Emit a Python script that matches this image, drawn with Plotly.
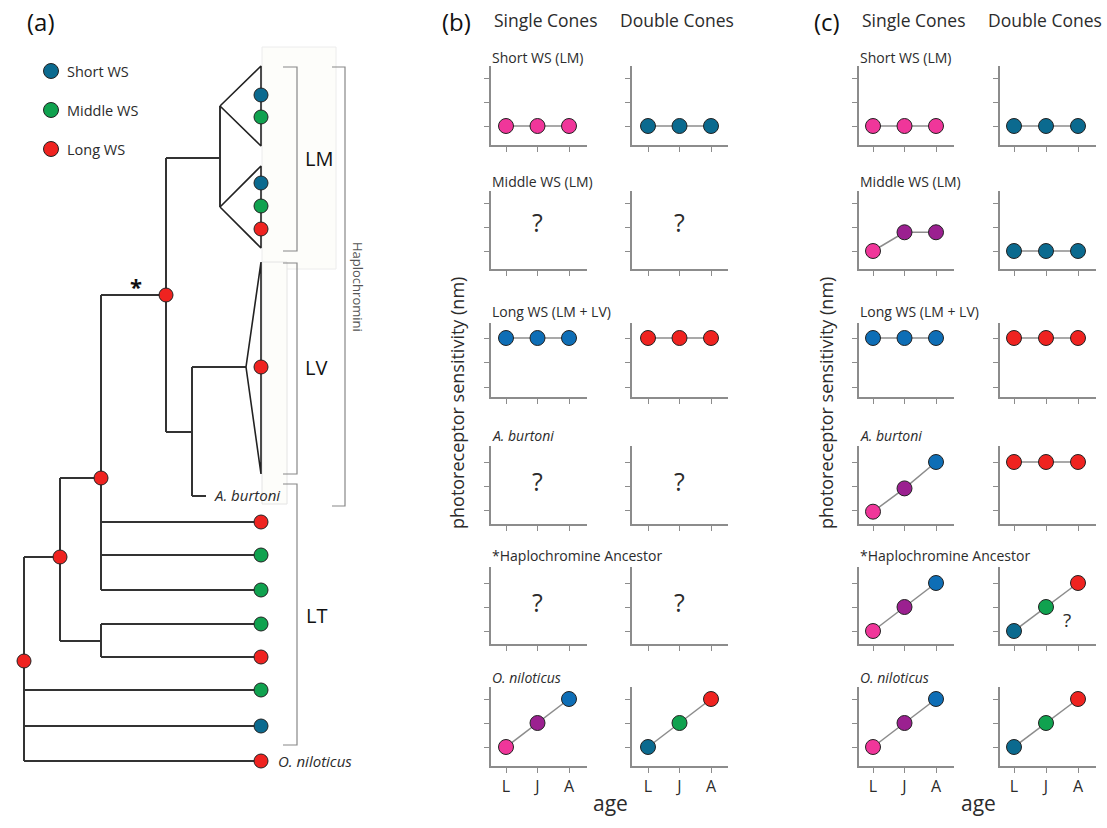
import plotly.graph_objects as go

W, H = 1107, 828
FONT = "Open Sans, Noto Sans, DejaVu Sans, sans-serif"
TXT = "#2b2b2b"

# photoreceptor class colours
COL = {
    "pink": "#f0369a",
    "purple": "#9b2090",
    "blue": "#0e6eb6",
    "teal": "#0b6a8f",
    "green": "#10a24f",
    "red": "#ef2320",
}

# ---------------- cladogram (panel a) ----------------
# internal nodes: depth (x) and row (y) on the tree canvas, node state colour
node_name = ["root", "n1", "n2", "n3", "hap", "lm", "lvb"]
node_x = [24, 60, 101, 101, 166, 220, 192]
node_y = [661, 557, 478, 641, 295, 158, 432]
node_state = ["red", "red", "red", None, "red", None, None]

# leaves (single taxa and collapsed clades)
leaf_name = ["tri1", "tri2", "trilv", "burtoni", "lt1", "lt2", "lt3", "lt4", "lt5", "lt6", "lt7", "nil"]
leaf_x = [220, 220, 246, 206, 261, 261, 261, 261, 261, 261, 261, 261]
leaf_y = [106, 207, 367, 496, 522, 555, 590, 624, 657, 690, 726, 761]
leaf_state = [None, None, None, None, "red", "green", "green", "green", "red", "green", "teal", "red"]

children = {
    "root": ["n1", "lt6", "lt7", "nil"],
    "n1": ["n2", "n3"],
    "n2": ["hap", "lt1", "lt2", "lt3"],
    "n3": ["lt4", "lt5"],
    "hap": ["lm", "lvb"],
    "lm": ["tri1", "tri2"],
    "lvb": ["trilv", "burtoni"],
}

# collapsed clades: apex leaf, edge x, span, and tip states listed top to bottom
clade_apex = ["tri1", "tri2", "trilv"]
clade_edge_x = [261, 261, 261]
clade_span = [(66, 146), (166, 248), (262, 474)]
clade_tip_y = [[95, 117], [183, 206, 229], [367]]
clade_tip_state = [["teal", "green"], ["teal", "green", "red"], ["red"]]

legend_labels = ["Short WS", "Middle WS", "Long WS"]
legend_states = ["teal", "green", "red"]
legend_y = [71, 110, 149]

# ---------------- ontogeny panels (b, c) ----------------
ages = ["L", "J", "A"]
row_titles = ["Short WS (LM)", "Middle WS (LM)", "Long WS (LM + LV)",
              "<i>A. burtoni</i>", "*Haplochromine Ancestor", "<i>O. niloticus</i>"]

b_single = [[1, 1, 1], None, [3, 3, 3], None, None, [1, 2, 3]]
b_single_col = [["pink"] * 3, None, ["blue"] * 3, None, None, ["pink", "purple", "blue"]]
b_double = [[1, 1, 1], None, [3, 3, 3], None, None, [1, 2, 3]]
b_double_col = [["teal"] * 3, None, ["red"] * 3, None, None, ["teal", "green", "red"]]

c_single = [[1, 1, 1], [1, 1.78, 1.78], [3, 3, 3], [0.93, 1.9, 3], [1, 2, 3], [1, 2, 3]]
c_single_col = [["pink"] * 3, ["pink", "purple", "purple"], ["blue"] * 3,
                ["pink", "purple", "blue"], ["pink", "purple", "blue"], ["pink", "purple", "blue"]]
c_double = [[1, 1, 1], [1, 1, 1], [3, 3, 3], [3, 3, 3], [1, 2, 3], [1, 2, 3]]
c_double_col = [["teal"] * 3, ["teal"] * 3, ["red"] * 3, ["red"] * 3,
                ["teal", "green", "red"], ["teal", "green", "red"]]

# ---------------- layout geometry (pixels) ----------------
row_box = [(66, 145), (191, 269), (323, 397), (446, 524), (567, 644), (687, 766)]
row_ticks = [(78, 126), (203, 251), (338, 387), (462, 510), (583, 631), (699, 747)]
row_title_y = [58, 182, 311, 435, 555, 677]
col_box = {"b": [(491, 587), (632, 728)], "c": [(859, 954), (1000, 1096)]}
col_ticks = {"b": [(506, 569), (648, 711)], "c": [(873, 936), (1014, 1078)]}


def px(x):
    return x / W


def py(y):
    return 1 - y / H


fig = go.Figure()
layout = dict(
    width=W, height=H, margin=dict(l=0, r=0, t=0, b=0),
    paper_bgcolor="white", plot_bgcolor="rgba(0,0,0,0)",
    showlegend=False, font=dict(family=FONT, color=TXT),
)
annotations = []
shapes = []

# tree canvas axis
TREE_W = 400
layout["xaxis"] = dict(domain=[0, px(TREE_W)], range=[0, TREE_W], visible=False, fixedrange=True)
layout["yaxis"] = dict(domain=[0, 1], range=[H, 0], visible=False, fixedrange=True)

# faint boxes behind the Haplochromini clades
shapes.append(dict(type="rect", xref="x", yref="y", x0=262, x1=336, y0=47, y1=269,
                   fillcolor="#fdfdfa", line=dict(color="#ececec", width=1), layer="below"))
shapes.append(dict(type="rect", xref="x", yref="y", x0=262, x1=287, y0=262, y1=504,
                   fillcolor="#fdfdfa", line=dict(color="#e4e4e4", width=1), layer="below"))

pos = {}
for n, x, y in zip(node_name, node_x, node_y):
    pos[n] = (x, y)
for n, x, y in zip(leaf_name, leaf_x, leaf_y):
    pos[n] = (x, y)

lx, ly = [], []
for parent, kids in children.items():
    px0, py0 = pos[parent]
    ys = [pos[k][1] for k in kids] + [py0]
    lx += [px0, px0, None]
    ly += [min(ys), max(ys), None]
    for k in kids:
        kx, ky = pos[k]
        lx += [px0, kx, None]
        ly += [ky, ky, None]
fig.add_trace(go.Scatter(x=lx, y=ly, mode="lines", line=dict(color="#333333", width=2),
                         hoverinfo="skip", xaxis="x", yaxis="y"))

# collapsed clade triangles
tx, ty = [], []
for apex, ex, (y0, y1) in zip(clade_apex, clade_edge_x, clade_span):
    ax, ay = pos[apex]
    tx += [ax, ex, ex, ax, None]
    ty += [ay, y0, y1, ay, None]
fig.add_trace(go.Scatter(x=tx, y=ty, mode="lines", line=dict(color="#222222", width=1.6),
                         hoverinfo="skip", xaxis="x", yaxis="y"))

# brackets
BR = dict(color="#888888", width=1.2)
for (y0, y1), xb, xt in [((67, 251), 297, 283), ((263, 474), 297, 283),
                         ((484, 745), 297, 283), ((67, 506), 345, 332)]:
    shapes.append(dict(type="path", xref="x", yref="y",
                       path=f"M {xt},{y0} L {xb},{y0} L {xb},{y1} L {xt},{y1}", line=BR))

mx, my, mc = [], [], []
for n, s in zip(node_name, node_state):
    if s:
        mx.append(pos[n][0]); my.append(pos[n][1]); mc.append(COL[s])
for n, s in zip(leaf_name, leaf_state):
    if s:
        mx.append(pos[n][0]); my.append(pos[n][1]); mc.append(COL[s])
for ex, ys, ss in zip(clade_edge_x, clade_tip_y, clade_tip_state):
    for y, s in zip(ys, ss):
        mx.append(ex); my.append(y); mc.append(COL[s])
fig.add_trace(go.Scatter(x=mx, y=my, mode="markers",
                         marker=dict(size=14, color=mc, line=dict(color="#222222", width=1)),
                         hoverinfo="skip", xaxis="x", yaxis="y"))

# legend of panel a
fig.add_trace(go.Scatter(x=[51] * 3, y=legend_y, mode="markers",
                         marker=dict(size=15, color=[COL[s] for s in legend_states],
                                     line=dict(color="#222222", width=1)),
                         hoverinfo="skip", xaxis="x", yaxis="y"))
for lab, y in zip(legend_labels, legend_y):
    annotations.append(dict(x=65, y=y, xref="x", yref="y", text=lab, showarrow=False,
                            xanchor="left", yanchor="middle", font=dict(size=14.5, color=TXT)))

# clade labels
for lab, x, y in [("LM", 319, 158), ("LV", 316, 367), ("LT", 316, 615)]:
    annotations.append(dict(x=x, y=y, xref="x", yref="y", text=lab, showarrow=False,
                            xanchor="center", yanchor="middle", font=dict(size=20, color="#111111")))
annotations.append(dict(x=358, y=287, xref="x", yref="y", text="Haplochromini", textangle=90,
                        showarrow=False, xanchor="center", yanchor="middle",
                        font=dict(size=13, color="#555555")))
annotations.append(dict(x=136, y=286, xref="x", yref="y", text="<b>*</b>", showarrow=False,
                        xanchor="center", yanchor="middle", font=dict(size=22, color="#111111")))
annotations.append(dict(x=212, y=495, xref="x", yref="y", text="<i>A. burtoni</i>", showarrow=False,
                        xanchor="left", yanchor="middle", font=dict(size=15, color=TXT)))
annotations.append(dict(x=276, y=761, xref="x", yref="y", text="<i>O. niloticus</i>", showarrow=False,
                        xanchor="left", yanchor="middle", font=dict(size=15, color=TXT)))

# ---------------- small panels ----------------
AX = dict(showline=True, linecolor="#8c8c8c", linewidth=1.5, mirror=False,
          ticks="outside", ticklen=5, tickwidth=1.2, tickcolor="#8c8c8c",
          showgrid=False, zeroline=False, fixedrange=True)

panel_data = {
    "b": [(b_single, b_single_col), (b_double, b_double_col)],
    "c": [(c_single, c_single_col), (c_double, c_double_col)],
}

k = 2
for panel in ["b", "c"]:
    for ci in range(2):
        vals_rows, col_rows = panel_data[panel][ci]
        x0, x1 = col_box[panel][ci]
        tl, tr = col_ticks[panel][ci]
        sx = (tr - tl) / 2
        xr = [1 - (tl - x0) / sx, 3 + (x1 - tr) / sx]
        for ri in range(6):
            top, bot = row_box[ri]
            t3, t1 = row_ticks[ri]
            sy = (t1 - t3) / 2
            yr = [1 - (bot - t1) / sy, 3 + (t3 - top) / sy]
            xa, ya = f"xaxis{k}", f"yaxis{k}"
            last = ri == 5
            layout[xa] = dict(AX, domain=[px(x0), px(x1)], range=xr, anchor=f"y{k}",
                              tickvals=[1, 2, 3], ticktext=ages, showticklabels=last,
                              tickfont=dict(size=16, color=TXT))
            layout[ya] = dict(AX, domain=[py(bot), py(top)], range=yr, anchor=f"x{k}",
                              tickvals=[1, 2, 3], showticklabels=False)
            vals = vals_rows[ri]
            if vals is None:
                annotations.append(dict(x=2, y=2.2, xref=f"x{k}", yref=f"y{k}", text="?",
                                        showarrow=False, font=dict(size=25, color=TXT)))
            else:
                fig.add_trace(go.Scatter(
                    x=[1, 2, 3], y=vals, mode="lines+markers",
                    line=dict(color="#8c8c8c", width=1.5),
                    marker=dict(size=15, color=[COL[c] for c in col_rows[ri]],
                                line=dict(color="#222222", width=1)),
                    hoverinfo="skip", xaxis=f"x{k}", yaxis=f"y{k}"))
                if panel == "c" and ci == 1 and ri == 4:
                    annotations.append(dict(x=2.67, y=1.45, xref=f"x{k}", yref=f"y{k}", text="?",
                                            showarrow=False, font=dict(size=19, color=TXT)))
            if ci == 0:
                annotations.append(dict(x=px(x0 - 1), y=py(row_title_y[ri]), xref="paper", yref="paper",
                                        text=row_titles[ri], showarrow=False, xanchor="left",
                                        yanchor="middle", font=dict(size=14, color=TXT)))
            k += 1

# panel headings and axis titles
for lab, x in [("(a)", 41), ("(b)", 456), ("(c)", 827)]:
    annotations.append(dict(x=px(x), y=py(21), xref="paper", yref="paper", text=lab, showarrow=False,
                            xanchor="center", yanchor="middle", font=dict(size=24, color="#111111")))
for lab, x in [("Single Cones", 546), ("Double Cones", 677), ("Single Cones", 914), ("Double Cones", 1045)]:
    annotations.append(dict(x=px(x), y=py(20), xref="paper", yref="paper", text=lab, showarrow=False,
                            xanchor="center", yanchor="middle", font=dict(size=17.5, color=TXT)))
for x in [457, 826]:
    annotations.append(dict(x=px(x), y=py(403), xref="paper", yref="paper",
                            text="photoreceptor sensitivity (nm)", textangle=-90, showarrow=False,
                            xanchor="center", yanchor="middle", font=dict(size=18, color=TXT)))
for x in [610, 978]:
    annotations.append(dict(x=px(x), y=py(803), xref="paper", yref="paper", text="age",
                            showarrow=False, xanchor="center", yanchor="middle",
                            font=dict(size=21, color=TXT)))

layout["annotations"] = annotations
layout["shapes"] = shapes
fig.update_layout(**layout)
fig.write_html("out.html")
